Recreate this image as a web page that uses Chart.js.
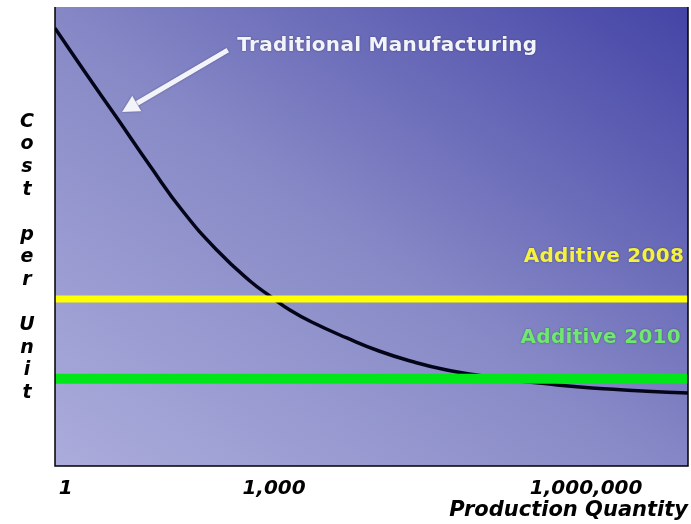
<!DOCTYPE html>
<html>
<head>
<meta charset="utf-8">
<script src="https://cdn.jsdelivr.net/npm/chart.js@4.4.1/dist/chart.umd.min.js"></script>
<style>
  html, body { margin: 0; padding: 0; background: #ffffff; }
  #wrap { width: 691px; height: 524px; }
</style>
</head>
<body>
<div id="wrap"><canvas id="chart" width="691" height="524"></canvas></div>
<script>
// Relative position along the production-quantity axis (0 = left edge, 100 = right edge)
const positions = [0, 4.7, 9.8, 15.0, 20.2, 25.6, 30.8, 34.3, 37.1, 40.8, 46.1, 51.3, 56.6, 61.9, 67.1, 72.4, 77.7, 82.9, 88.2, 93.5, 100];
// Cost per unit of traditional manufacturing at each position
const traditionalCost = [95.4, 85.9, 75.8, 65.4, 55.5, 47.0, 40.3, 36.7, 34.0, 31.2, 27.9, 25.0, 22.7, 20.9, 19.7, 18.7, 17.9, 17.2, 16.7, 16.3, 15.9];
// Flat cost per unit of additive manufacturing
const additive2008Cost = 36.4;
const additive2010Cost = 19.0;
// Axis ticks
const tickPositions = [1.7, 34.6, 83.9];
const tickLabels = ['1', '1,000', '1,000,000'];
const yTitleLines = ['C', 'o', 's', 't', '', 'p', 'e', 'r', '', 'U', 'n', 'i', 't'];

const curvePoints = positions.map((x, i) => ({ x: x, y: traditionalCost[i] }));
const flatLine = v => [{ x: 0, y: v }, { x: 100, y: v }];

const FONT = '"DejaVu Sans", Verdana, sans-serif';

// Gradient backdrop and frame of the plot area
const plotBackground = {
  id: 'plotBackground',
  beforeDatasetsDraw(chart) {
    const { ctx, chartArea: a } = chart;
    const w = a.right - a.left, h = a.bottom - a.top;
    // direction perpendicular to the top-left / bottom-right diagonal
    const k = (w * h + h * w) / (h * h + w * w);
    ctx.save();
    const g = ctx.createLinearGradient(a.left, a.bottom, a.left + k * h, a.bottom - k * w);
    g.addColorStop(0, '#abacdb');
    g.addColorStop(0.475, '#888ac7');
    g.addColorStop(1, '#4444a6');
    ctx.fillStyle = g;
    ctx.fillRect(a.left, a.top, w, h);
    ctx.restore();
  },
  afterDatasetsDraw(chart) {
    const { ctx, chartArea: a } = chart;
    ctx.save();
    ctx.strokeStyle = '#000000';
    ctx.lineWidth = 1.5;
    ctx.beginPath();
    ctx.moveTo(a.left, a.top);
    ctx.lineTo(a.left, a.bottom);
    ctx.lineTo(a.right, a.bottom);
    ctx.lineTo(a.right, a.top);
    ctx.stroke();
    ctx.restore();
  }
};

// Callout labels, arrow and the stacked vertical axis title
const callouts = {
  id: 'callouts',
  afterDraw(chart) {
    const { ctx, chartArea: a } = chart;
    const xs = chart.scales.x, ys = chart.scales.y;
    const px = v => xs.getPixelForValue(v);
    const py = v => ys.getPixelForValue(v);
    ctx.save();
    ctx.font = 'bold 20px ' + FONT;
    ctx.letterSpacing = '0.3px';
    ctx.textBaseline = 'middle';
    ctx.shadowColor = 'rgba(20,20,60,0.45)';
    ctx.shadowBlur = 2;

    ctx.fillStyle = '#f3f3fa';
    ctx.textAlign = 'left';
    ctx.fillText('Traditional Manufacturing', px(28.8), py(91.6));

    ctx.textAlign = 'right';
    ctx.fillStyle = '#f4f23e';
    ctx.fillText('Additive 2008', px(99.4), py(45.6));
    ctx.fillStyle = '#70e870';
    ctx.fillText('Additive 2010', px(98.9), py(28.0));

    // Arrow pointing at the traditional curve
    const x0 = px(27.3), y0 = py(90.6), x1 = px(10.6), y1 = py(77.1);
    const ang = Math.atan2(y1 - y0, x1 - x0);
    const head = 17;
    const bx = x1 - head * Math.cos(ang), by = y1 - head * Math.sin(ang);
    ctx.strokeStyle = '#f3f3fa';
    ctx.fillStyle = '#f3f3fa';
    ctx.lineWidth = 5;
    ctx.lineCap = 'butt';
    ctx.beginPath();
    ctx.moveTo(x0, y0);
    ctx.lineTo(bx, by);
    ctx.stroke();
    ctx.beginPath();
    ctx.moveTo(x1, y1);
    ctx.lineTo(bx + 9 * Math.sin(ang), by - 9 * Math.cos(ang));
    ctx.lineTo(bx - 9 * Math.sin(ang), by + 9 * Math.cos(ang));
    ctx.closePath();
    ctx.fill();

    // Vertical axis title, one letter per line
    ctx.shadowBlur = 0;
    ctx.shadowColor = 'transparent';
    ctx.letterSpacing = '0px';
    ctx.fillStyle = '#000000';
    ctx.textAlign = 'center';
    ctx.font = 'italic bold 19px ' + FONT;
    const lh = 22.6;
    const mid = (a.top + a.bottom) / 2 + 21;
    const start = mid - lh * (yTitleLines.length - 1) / 2;
    yTitleLines.forEach((ch, i) => {
      if (ch) ctx.fillText(ch, 27, start + i * lh);
    });
    ctx.restore();
  }
};

new Chart(document.getElementById('chart'), {
  type: 'line',
  data: {
    datasets: [
      {
        label: 'Additive 2008',
        data: flatLine(additive2008Cost),
        borderColor: '#ffff00',
        borderWidth: 7,
        pointRadius: 0,
        borderCapStyle: 'butt'
      },
      {
        label: 'Additive 2010',
        data: flatLine(additive2010Cost),
        borderColor: '#00e619',
        borderWidth: 10,
        pointRadius: 0,
        borderCapStyle: 'butt'
      },
      {
        label: 'Traditional Manufacturing',
        data: curvePoints,
        borderColor: '#05051a',
        borderWidth: 3.5,
        pointRadius: 0,
        tension: 0.5
      }
    ]
  },
  options: {
    responsive: false,
    animation: false,
    layout: { padding: { left: 55, right: 3, top: 7, bottom: 0 } },
    plugins: { legend: { display: false }, tooltip: { enabled: false } },
    scales: {
      x: {
        type: 'linear',
        min: 0,
        max: 100,
        grid: { display: false, drawTicks: false },
        border: { display: false },
        afterBuildTicks(scale) {
          scale.ticks = tickPositions.map(v => ({ value: v }));
        },
        afterFit(scale) { scale.height = 58; },
        ticks: {
          autoSkip: false,
          maxRotation: 0,
          padding: 11,
          color: '#000000',
          font: { family: FONT, size: 20, weight: 'bold', style: 'italic' },
          callback(value, index) { return tickLabels[index]; }
        },
        title: {
          display: true,
          text: 'Production Quantity',
          align: 'end',
          color: '#000000',
          padding: { top: 0, bottom: 1 },
          font: { family: FONT, size: 21, weight: 'bold', style: 'italic' }
        }
      },
      y: {
        type: 'linear',
        min: 0,
        max: 100,
        display: false
      }
    }
  },
  plugins: [plotBackground, callouts]
});
</script>
</body>
</html>
